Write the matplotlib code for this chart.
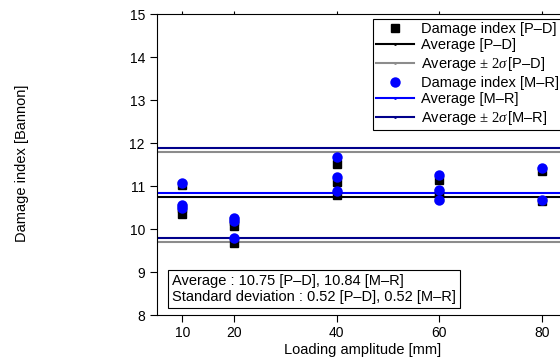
import matplotlib
matplotlib.use('Agg')
import matplotlib.pyplot as plt
from matplotlib.lines import Line2D

plt.rcParams['font.family'] = ['Liberation Sans', 'DejaVu Sans']
plt.rcParams['mathtext.fontset'] = 'custom'
plt.rcParams['mathtext.rm'] = 'Liberation Serif'
plt.rcParams['mathtext.it'] = 'Liberation Serif:italic'

# loading amplitude [mm] of each test
amp_pd = [10, 10, 10, 20, 20, 20, 40, 40, 40, 60, 60, 60, 80, 80]
amp_mr = [10, 10, 10, 20, 20, 20, 40, 40, 40, 60, 60, 60, 80, 80]

# damage index (Bannon), P-D and M-R
di_pd = [11.03, 10.50, 10.35, 10.20, 10.08, 9.68, 11.52, 11.10, 10.80,
         11.15, 10.85, 10.72, 11.35, 10.65]
di_mr = [11.08, 10.57, 10.50, 10.26, 10.20, 9.80, 11.67, 11.22, 10.88,
         11.27, 10.92, 10.68, 11.42, 10.68]

avg_pd, avg_mr = 10.75, 10.84
std_pd, std_mr = 0.52, 0.52

xticks = [10, 20, 40, 60, 80]
yticks = [8, 9, 10, 11, 12, 13, 14, 15]

fig = plt.figure(figsize=(5.6, 3.63), dpi=100)
ax = fig.add_axes([0.280, 0.132, 0.7335, 0.829])

ax.axhline(avg_pd + 2 * std_pd, color='#8c8c8c', lw=1.5)
ax.axhline(avg_pd - 2 * std_pd, color='#8c8c8c', lw=1.5)
ax.axhline(avg_mr + 2 * std_mr, color='#00008b', lw=1.5)
ax.axhline(avg_mr - 2 * std_mr, color='#00008b', lw=1.5)
ax.axhline(avg_pd, color='black', lw=1.5)
ax.axhline(avg_mr, color='#0000ff', lw=1.5)

ax.plot(amp_pd, di_pd, 's', color='black', ms=6, zorder=3)
ax.plot(amp_mr, di_mr, 'o', color='#0000ff', ms=7.5, mec='none', zorder=4)

ax.set_xlim(5, 85)
ax.set_ylim(8, 15)
ax.set_xticks(xticks)
ax.set_yticks(yticks)
ax.spines['right'].set_visible(False)
ax.tick_params(direction='out', length=5, width=0.8, labelsize=10)
ax.tick_params(axis='x', top=True, pad=3)
ax.tick_params(axis='x', which='major', top=True)
for t in ax.xaxis.get_major_ticks():
    t.tick2line.set_markersize(2)
ax.set_xlabel('Loading amplitude [mm]', fontsize=10.5, labelpad=2)
fig.text(0.04, 0.55, 'Damage index [Bannon]', rotation=90, fontsize=10.5,
         ha='center', va='center')

handles = [
    Line2D([], [], ls='none', marker='s', color='black', ms=6),
    Line2D([], [], color='black', lw=1.5, marker='.', ms=2),
    Line2D([], [], color='#8c8c8c', lw=1.5, marker='.', ms=2),
    Line2D([], [], ls='none', marker='o', color='#0000ff', ms=7.5, mec='none'),
    Line2D([], [], color='#0000ff', lw=1.5, marker='.', ms=2),
    Line2D([], [], color='#00008b', lw=1.5, marker='.', ms=2),
]
labels = ['Damage index [P–D]', 'Average [P–D]', r'Average$\,\pm\,2\sigma\,$[P–D]',
          'Damage index [M–R]', 'Average [M–R]', r'Average$\,\pm\,2\sigma\,$[M–R]']
leg = fig.legend(handles, labels, loc='upper left', bbox_to_anchor=(0.666, 0.948),
                 fontsize=10.5, frameon=True, fancybox=False, edgecolor='black',
                 framealpha=1, labelspacing=0.18, handlelength=2.6,
                 handletextpad=0.5, borderpad=0.2, borderaxespad=0)
leg.get_frame().set_linewidth(0.8)

ax.text(0.037, 0.037,
        'Average : 10.75 [P–D], 10.84 [M–R]\nStandard deviation : 0.52 [P–D], 0.52 [M–R]',
        transform=ax.transAxes, fontsize=10.5, ha='left', va='bottom',
        linespacing=1.15,
        bbox=dict(boxstyle='square,pad=0.3', fc='white', ec='black', lw=0.8))

fig.savefig('out.png', dpi=100)
